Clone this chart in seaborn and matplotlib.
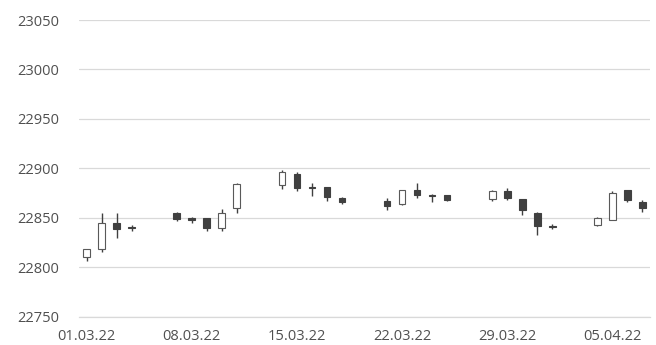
import matplotlib
matplotlib.use("Agg")
import matplotlib.pyplot as plt
import seaborn as sns
import numpy as np
import pandas as pd

dates = ["2022-03-01", "2022-03-02", "2022-03-03", "2022-03-04",
         "2022-03-07", "2022-03-08", "2022-03-09", "2022-03-10", "2022-03-11",
         "2022-03-14", "2022-03-15", "2022-03-16", "2022-03-17", "2022-03-18",
         "2022-03-21", "2022-03-22", "2022-03-23", "2022-03-24", "2022-03-25",
         "2022-03-28", "2022-03-29", "2022-03-30", "2022-03-31", "2022-04-01",
         "2022-04-04", "2022-04-05", "2022-04-06", "2022-04-07"]
open_ = [22810, 22818, 22845, 22841,
         22855, 22850, 22850, 22840, 22860,
         22883, 22894, 22881.5, 22881, 22870,
         22866.5, 22863.5, 22878, 22873.5, 22873,
         22869, 22877, 22869, 22855, 22842,
         22843, 22848, 22878, 22865.5]
high = [22818, 22855, 22855, 22843,
        22856, 22851, 22850, 22859, 22885,
        22898, 22896, 22885, 22881.5, 22871.5,
        22870, 22878.5, 22885, 22874, 22873.5,
        22878, 22880, 22869.5, 22855.5, 22844,
        22850.5, 22877.5, 22878.5, 22868]
low = [22806, 22815, 22830, 22837,
       22847, 22845, 22837, 22837, 22855,
       22879, 22877, 22872, 22866.5, 22864,
       22858, 22863, 22870, 22866, 22866.5,
       22866.5, 22867.5, 22853, 22833, 22839,
       22841.5, 22847.5, 22866, 22855.5]
close = [22818, 22845, 22839, 22839.5,
         22849, 22848, 22840, 22855, 22884,
         22896, 22880, 22880.5, 22871, 22866,
         22861.5, 22878, 22873.5, 22872, 22868,
         22877.5, 22870, 22858, 22841.5, 22841,
         22850, 22875, 22868.5, 22860]

y_ticks = [22750, 22800, 22850, 22900, 22950, 23000, 23050]
x_labels = ["2022-03-01", "2022-03-08", "2022-03-15", "2022-03-22", "2022-03-29", "2022-04-05"]

df = pd.DataFrame({"date": pd.to_datetime(dates), "open": open_, "high": high,
                   "low": low, "close": close})
df["up"] = df["close"] >= df["open"]
df["bottom"] = df[["open", "close"]].min(axis=1)
df["height"] = (df["close"] - df["open"]).abs().clip(lower=0.8)

sns.set_theme(style="white")
plt.rcParams['font.family'] = ['Open Sans', 'DejaVu Sans']

fig = plt.figure(figsize=(6.56, 3.45), dpi=100)
ax = fig.add_axes([79 / 656, 28.3 / 345, 571 / 656, 296.7 / 345])

dark = "#404040"
edge = "#595959"

# wicks first, bodies on top
ax.vlines(df["date"], df["low"], df["high"], color=dark, linewidth=1.0, zorder=2)
up = df[df["up"]]
down = df[~df["up"]]
ax.bar(up["date"], up["height"], bottom=up["bottom"], width=0.44,
       color="white", edgecolor=edge, linewidth=0.8, zorder=3)
ax.bar(down["date"], down["height"], bottom=down["bottom"], width=0.44,
       color=dark, edgecolor=dark, linewidth=0.8, zorder=3)

start = pd.Timestamp(dates[0]) - pd.Timedelta(hours=12)
end = pd.Timestamp(dates[-1]) + pd.Timedelta(hours=12)
ax.set_xlim(start, end)
ax.set_ylim(y_ticks[0], y_ticks[-1])

ax.set_yticks(y_ticks)
ax.yaxis.grid(True, color="#d9d9d9", linewidth=0.9)
ax.set_axisbelow(True)

label_pos = pd.to_datetime(x_labels)
ax.set_xticks(label_pos)
ax.set_xticklabels([d.strftime("%d.%m.%y") for d in label_pos])
ax.set_xticks(label_pos - pd.Timedelta(hours=12), minor=True)
ax.tick_params(axis="x", which="major", length=0, pad=9, labelsize=10.5, labelcolor="#505050")
ax.tick_params(axis="x", which="minor", length=5, width=0.9, color="#d9d9d9", direction="out")
ax.tick_params(axis="y", length=0, pad=14, labelsize=10.5, labelcolor="#505050")

sns.despine(ax=ax, left=True, right=True, top=True)
ax.spines["bottom"].set_color("#d9d9d9")
ax.spines["bottom"].set_linewidth(0.9)
ax.set_xlabel("")
ax.set_ylabel("")

fig.savefig("out.png", dpi=100)
